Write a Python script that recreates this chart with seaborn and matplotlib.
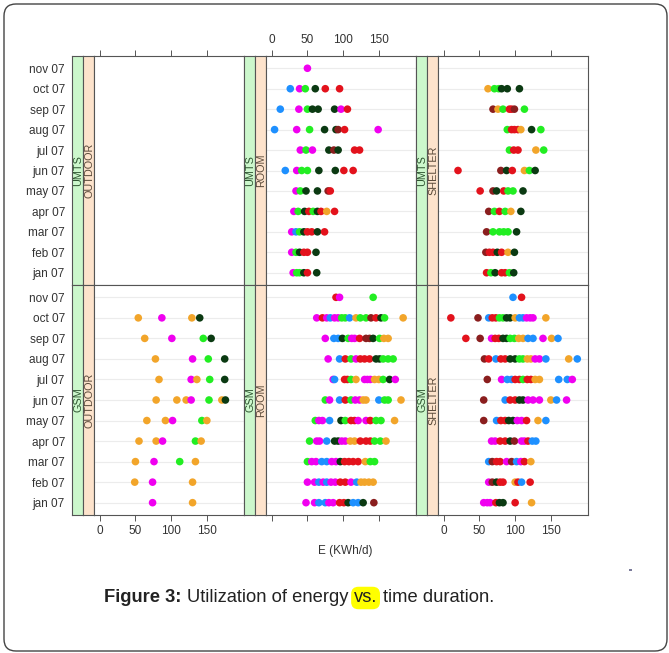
import numpy as np
import pandas as pd
import matplotlib.pyplot as plt
import seaborn as sns
from matplotlib.patches import FancyBboxPatch, Rectangle

# Levels (bottom to top) and axis ticks
months = ["jan 07", "feb 07", "mar 07", "apr 07", "may 07", "jun 07",
          "jul 07", "aug 07", "sep 07", "oct 07", "nov 07"]
x_ticks = [0, 50, 100, 150]
techs = ["UMTS", "GSM"]
sites = ["OUTDOOR", "ROOM", "SHELTER"]

# colour codes used for the point series
palette = {"B": "#1E90FF", "M": "#F000F0", "G": "#22EE22", "K": "#0B3A12",
           "R": "#E3121C", "O": "#F2A52A", "D": "#8A1E1E"}

# E (KWh/d) per month, one list per month (jan..nov), colour code string alongside
umts_outdoor_vals = [[], [], [], [], [], [], [], [], [], [], []]
umts_outdoor_cols = ["", "", "", "", "", "", "", "", "", "", ""]

umts_room_vals = [
    [30, 35, 39, 45, 50, 63],
    [28, 34, 39, 45, 50, 62],
    [28, 34, 39, 45, 50, 56, 64, 74],
    [31, 37, 46, 52, 58, 64, 69, 77, 88],
    [34, 40, 48, 64, 79, 82, 94],
    [19, 35, 42, 50, 66, 89, 101, 114],
    [40, 48, 57, 80, 87, 93, 116, 123],
    [4, 35, 53, 74, 90, 93, 102, 149],
    [12, 38, 50, 57, 65, 88, 97, 106],
    [26, 39, 47, 61, 75, 95],
    [50],
]
umts_room_cols = ["MGGKRK", "MGKRRK", "MBGKRRKR", "MGKRGKROR", "MGKKDR",
                  "BMGGKKRR", "MGMKDKRR", "BMGKKDRM", "BMGKKKMR", "BMGKRR", "M"]

umts_shelter_vals = [
    [60, 66, 72, 81, 86, 92, 98],
    [59, 64, 69, 75, 81, 90, 99],
    [60, 69, 78, 84, 90, 102],
    [63, 71, 78, 86, 94, 108],
    [51, 69, 74, 84, 90, 97, 111],
    [20, 80, 88, 96, 113, 120, 128],
    [92, 98, 104, 129, 140],
    [89, 95, 99, 104, 108, 123, 136],
    [69, 76, 83, 92, 95, 99, 113],
    [62, 71, 77, 81, 89, 106],
    [],
]
umts_shelter_cols = ["RGKRRGK", "DRRKROK", "DGGGGK", "DGRGOK", "RDKRGGK", "RDKROGK",
                     "GRROG", "GRRROKG", "DOGRRDG", "OGGKKK", ""]

gsm_outdoor_vals = [
    [74, 130],
    [49, 74, 130],
    [50, 76, 112, 134],
    [55, 79, 88, 134, 142],
    [66, 92, 102, 143, 150],
    [79, 108, 121, 128, 153, 171, 176],
    [83, 128, 136, 154, 175],
    [78, 130, 152, 175],
    [63, 101, 145, 156],
    [54, 87, 129, 140],
    [],
]
gsm_outdoor_cols = ["MO", "OMO", "OMGO", "OOMGO", "OOMGO", "OOOMGOK", "OMOGK",
                    "OMGK", "OMGK", "OMOK", ""]

gsm_room_vals = [
    [48, 60, 66, 75, 80, 86, 95, 101, 107, 114, 121, 128, 143],
    [50, 60, 66, 72, 77, 83, 89, 96, 103, 111, 119, 125, 130, 136, 142],
    [50, 56, 62, 70, 77, 84, 90, 96, 102, 108, 114, 121, 131, 138, 144],
    [53, 63, 67, 77, 88, 93, 98, 103, 110, 116, 124, 132, 138, 144, 152, 160],
    [61, 66, 71, 81, 97, 103, 111, 116, 121, 132, 138, 146, 153, 172],
    [75, 81, 95, 103, 111, 117, 123, 128, 132, 150, 158, 163, 181],
    [86, 88, 102, 106, 111, 118, 130, 134, 138, 144, 150, 156, 165, 173],
    [79, 95, 103, 111, 118, 124, 130, 137, 146, 151, 156, 163, 170],
    [75, 87, 93, 99, 107, 112, 116, 123, 132, 137, 142, 151, 157, 163],
    [63, 71, 77, 82, 88, 93, 98, 103, 109, 118, 124, 132, 139, 146, 153, 158, 184],
    [90, 95, 142],
]
gsm_room_cols = ["MMBBMMRRKBBKD", "MMBMBMMRRMBOOOO", "GMMBBMMKRRRROGG",
                 "GMMBKKMMOORRRGGO", "GMMBKGRRMMRGGO", "GMBRGMMOOBGGO",
                 "MBRRGOMMMOOGKM", "MBRGMRRRKKGGG", "MBBKGMMRDDKGOO",
                 "MRMBMMGGBOGGDRKGOK", "RMG"]

gsm_shelter_vals = [
    [56, 61, 65, 73, 78, 83, 100, 123],
    [63, 68, 74, 79, 83, 100, 104, 109, 121],
    [63, 68, 74, 79, 88, 95, 102, 108, 113, 122],
    [67, 72, 79, 86, 93, 99, 109, 113, 118, 124, 129],
    [56, 74, 80, 86, 91, 97, 103, 109, 116, 132, 143],
    [56, 86, 93, 100, 106, 111, 118, 125, 134, 150, 158, 172],
    [61, 81, 89, 95, 100, 106, 111, 117, 122, 128, 134, 161, 173, 180],
    [57, 63, 73, 80, 86, 93, 100, 106, 111, 117, 122, 128, 134, 143, 175, 187],
    [31, 51, 67, 72, 77, 83, 88, 93, 99, 105, 111, 118, 125, 139, 151, 160],
    [10, 48, 63, 68, 73, 78, 83, 88, 93, 100, 106, 111, 116, 121, 125, 143],
    [97, 109],
]
gsm_shelter_cols = ["MMMRKKRO", "MDKRRORBR", "BDRRMDBMRO", "MMRRKDMMRBB",
                    "DBRRKKMMROB", "DBRRKKMMMOBM", "DMBBRRGRROOBBM",
                    "DRBRRKKGGOOMMBOB", "RDMRRKKGGOOBBMOB", "RDBRRGGKKOBBMMMO",
                    "BR"]

panel_vals = [[umts_outdoor_vals, umts_room_vals, umts_shelter_vals],
              [gsm_outdoor_vals, gsm_room_vals, gsm_shelter_vals]]
panel_cols = [[umts_outdoor_cols, umts_room_cols, umts_shelter_cols],
              [gsm_outdoor_cols, gsm_room_cols, gsm_shelter_cols]]


def to_frame(vals, cols):
    rows = []
    for i, (v, c) in enumerate(zip(vals, cols)):
        for e, k in zip(v, c):
            rows.append({"E": e, "month": i + 1, "col": k})
    return pd.DataFrame(rows, columns=["E", "month", "col"])


sns.set_style("white")
plt.rcParams["font.family"] = ["Liberation Sans", "DejaVu Sans"]

W, H = 669, 653
fig = plt.figure(figsize=(W / 100, H / 100), dpi=100)


def fx(px):
    return px / W


def fy(py):
    return 1 - py / H


col_left = [72, 244, 416]
col_w = 172
strip_w = 11
row_top = [56, 285]
row_h = [229, 230]
frame_c = "#555555"
ylim = (0.4, 11.6)
xlim = (-8, 202)

for r in range(2):
    for c in range(3):
        left, top, h = col_left[c], row_top[r], row_h[r]
        # strips on the left of each panel
        for k, (fc, label, tc) in enumerate([("#ccf7cc", techs[r], "#2e5530"),
                                              ("#fde3cc", sites[c], "#5a4a3a")]):
            sax = fig.add_axes([fx(left + k * strip_w), fy(top + h), strip_w / W, h / H])
            sax.set_facecolor(fc)
            sax.set_xticks([])
            sax.set_ylim(ylim)
            if c == 0 and k == 0:
                sax.set_yticks(range(1, len(months) + 1))
                sax.set_yticklabels(months)
                sax.tick_params(axis="y", length=0, pad=5, labelsize=8.5,
                                labelcolor="#333333")
            else:
                sax.set_yticks([])
            for sp in sax.spines.values():
                sp.set_color(frame_c)
                sp.set_linewidth(0.8)
            sax.text(0.55, 0.5, label, rotation=90, ha="center", va="center",
                     transform=sax.transAxes, fontsize=7.8, color=tc)

        ax = fig.add_axes([fx(left + 2 * strip_w), fy(top + h),
                           (col_w - 2 * strip_w) / W, h / H])
        df = to_frame(panel_vals[r][c], panel_cols[r][c])
        if len(df):
            ax.set_yticks(range(1, len(months) + 1))
            ax.grid(axis="y", color="#ececec", linewidth=0.8)
            ax.set_axisbelow(True)
            sns.scatterplot(data=df, x="E", y="month", hue="col", palette=palette,
                            s=30, linewidth=0, alpha=1, legend=False, ax=ax, zorder=3)
        ax.set_xlim(xlim)
        ax.set_ylim(ylim)
        ax.set_xlabel("")
        ax.set_ylabel("")
        ax.set_xticks(x_ticks)
        ax.tick_params(axis="y", left=False, labelleft=False)
        if r == 0:
            ax.tick_params(axis="x", bottom=False, labelbottom=False, top=True,
                           labeltop=(c == 1))
        else:
            ax.tick_params(axis="x", bottom=True, labelbottom=(c != 1), top=False,
                           labeltop=False)
        ax.tick_params(axis="x", length=4, width=0.7, color=frame_c, pad=3,
                       labelsize=8.5, labelcolor="#333333")
        for sp in ax.spines.values():
            sp.set_color(frame_c)
            sp.set_linewidth(0.8)

fig.text(fx(345), fy(551), "E (KWh/d)", ha="center", va="center",
         fontsize=8.5, color="#333333")

# caption
renderer = fig.canvas.get_renderer()
parts = [("Figure 3:", "bold", False), ("Utilization of energy", "normal", False),
         ("vs.", "normal", True), ("time duration.", "normal", False)]
xpos = 104
for txt, weight, hl in parts:
    kw = {}
    if hl:
        kw["bbox"] = dict(boxstyle="round,pad=0.15,rounding_size=0.4",
                          fc="#ffff00", ec="none")
    t = fig.text(fx(xpos), fy(598), txt, ha="left", va="center", fontsize=13.2,
                 fontweight=weight, color="#222222", **kw)
    bb = t.get_window_extent(renderer=renderer)
    xpos += bb.width + 5.5

# stray mark and rounded page frame
fig.add_artist(Rectangle((fx(629), fy(571)), 3 / W, 2 / H, transform=fig.transFigure,
                         color="#7a7a9a", lw=0))
fig.add_artist(FancyBboxPatch((0.04, 0.02), 6.63, 6.47,
                              boxstyle="round,pad=0,rounding_size=0.12",
                              transform=fig.dpi_scale_trans, fill=False,
                              ec="#444444", lw=1.0))

fig.savefig("out.png", dpi=100)
plt.close()
